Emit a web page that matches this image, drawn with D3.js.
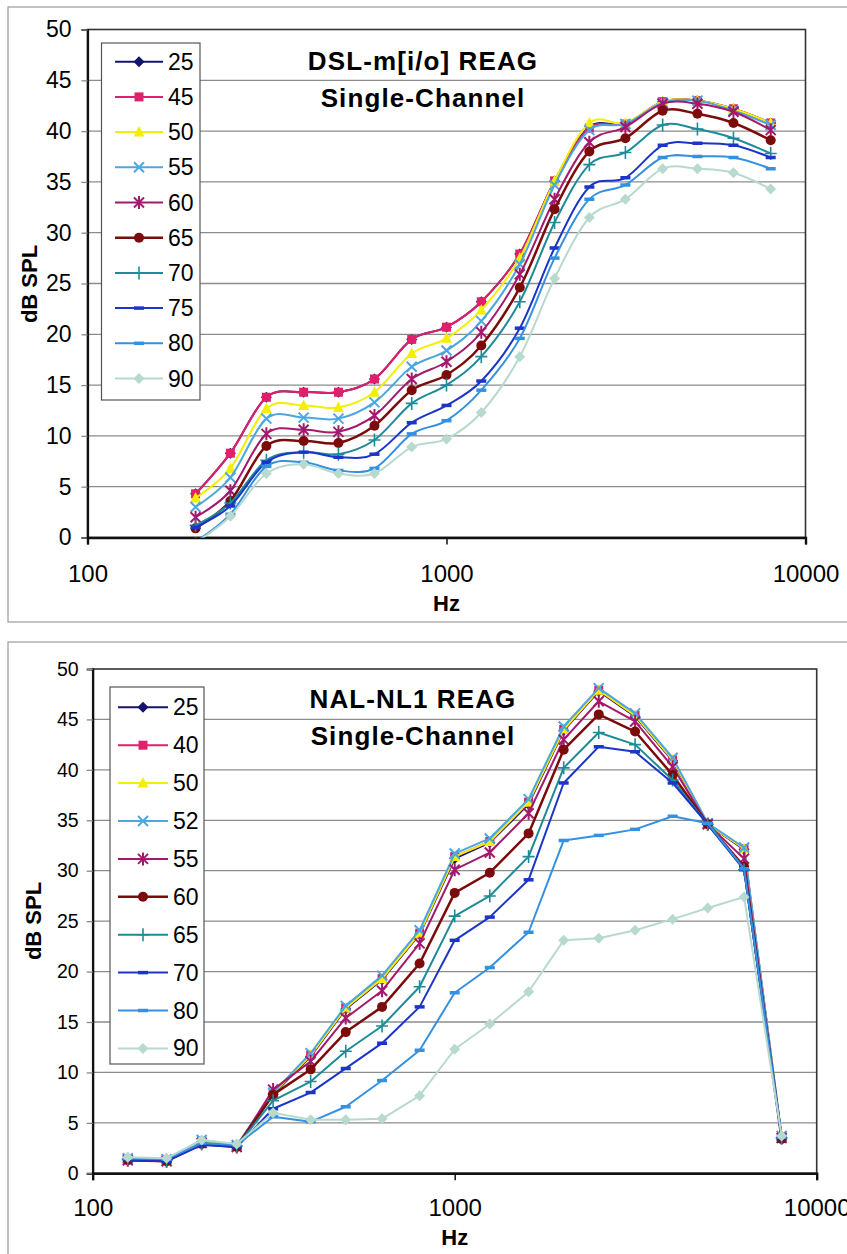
<!DOCTYPE html>
<html>
<head>
<meta charset="utf-8">
<script src="https://cdn.jsdelivr.net/npm/d3@7"></script>
<style>
  body { margin: 0; background: #fff; }
  svg { display: block; }
  text { font-family: Arial, "Liberation Sans", sans-serif; fill: #000; }
</style>
</head>
<body>
<svg id="chart" width="847" height="1254"></svg>
<script>
// ---- DSL-m[i/o] chart data (dB SPL per frequency) ----
const dslFreqs = [200, 250, 315, 400, 500, 630, 800, 1000, 1250, 1600, 2000, 2500, 3150, 4000, 5000, 6300, 8000];
const dslLabels = ["25", "45", "50", "55", "60", "65", "70", "75", "80", "90"];
const dsl25 = [4.3, 8.3, 13.8, 14.3, 14.3, 15.6, 19.5, 20.7, 23.2, 27.9, 35.1, 40.4, 40.7, 42.9, 43.0, 42.2, 40.8];
const dsl45 = [4.3, 8.3, 13.8, 14.3, 14.3, 15.6, 19.5, 20.7, 23.2, 27.9, 35.1, 40.3, 40.7, 42.9, 43.0, 42.2, 40.8];
const dsl50 = [3.9, 6.8, 12.7, 13.0, 12.8, 14.3, 18.1, 19.6, 22.4, 27.5, 35.1, 40.8, 40.8, 42.9, 43.0, 42.2, 40.8];
const dsl55 = [3.0, 5.9, 11.7, 11.8, 11.7, 13.3, 16.8, 18.4, 21.3, 26.9, 34.7, 40.1, 40.7, 42.8, 43.0, 42.0, 40.6];
const dsl60 = [2.0, 4.6, 10.2, 10.6, 10.4, 12.0, 15.6, 17.3, 20.2, 25.9, 33.3, 38.9, 40.4, 42.7, 42.7, 41.9, 40.1];
const dsl65 = [0.9, 3.6, 9.0, 9.5, 9.3, 11.0, 14.5, 16.0, 18.9, 24.6, 32.3, 38.0, 39.3, 42.0, 41.7, 40.8, 39.1];
const dsl70 = [1.2, 3.4, 7.6, 8.4, 8.2, 9.6, 13.2, 15.0, 17.8, 23.2, 31.0, 36.7, 37.9, 40.6, 40.2, 39.3, 37.8];
const dsl75 = [1.0, 3.1, 7.4, 8.4, 7.9, 8.2, 11.3, 13.0, 15.4, 20.6, 28.5, 34.5, 35.4, 38.6, 38.8, 38.6, 37.4];
const dsl80 = [-0.4, 2.3, 7.0, 7.4, 6.6, 6.8, 10.2, 11.5, 14.5, 19.6, 27.5, 33.3, 34.7, 37.4, 37.5, 37.4, 36.3];
const dsl90 = [-0.5, 2.1, 6.3, 7.2, 6.3, 6.3, 8.9, 9.7, 12.3, 17.8, 25.5, 31.5, 33.3, 36.3, 36.3, 35.9, 34.3];

// ---- NAL-NL1 chart data ----
const nalFreqs = [125, 160, 200, 250, 315, 400, 500, 630, 800, 1000, 1250, 1600, 2000, 2500, 3150, 4000, 5000, 6300, 8000];
const nalLabels = ["25", "40", "50", "52", "55", "60", "65", "70", "80", "90"];
const nal25 = [1.4, 1.2, 3.1, 2.6, 7.8, 11.6, 16.3, 19.2, 23.7, 31.2, 32.8, 36.6, 43.9, 47.8, 45.3, 40.9, 34.6, 32.1, 3.5];
const nal40 = [1.4, 1.3, 3.2, 2.7, 7.9, 11.7, 16.4, 19.3, 23.8, 31.4, 32.9, 36.8, 44.0, 47.9, 45.4, 41.0, 34.6, 32.2, 3.6];
const nal50 = [1.4, 1.3, 3.2, 2.7, 7.9, 11.7, 16.4, 19.3, 23.8, 31.4, 32.9, 36.8, 44.0, 47.9, 45.4, 41.0, 34.6, 32.2, 3.6];
const nal52 = [1.5, 1.4, 3.3, 2.8, 8.0, 11.9, 16.6, 19.6, 24.1, 31.7, 33.2, 37.1, 44.3, 48.1, 45.6, 41.2, 34.7, 32.3, 3.7];
const nal55 = [1.3, 1.2, 3.0, 2.6, 8.3, 11.1, 15.4, 18.1, 22.8, 30.1, 31.8, 35.7, 43.0, 46.8, 44.8, 40.3, 34.6, 31.2, 3.5];
const nal60 = [1.3, 1.2, 2.9, 2.6, 7.8, 10.3, 14.0, 16.5, 20.8, 27.8, 29.8, 33.7, 42.0, 45.5, 43.8, 39.5, 34.6, 30.4, 3.4];
const nal65 = [1.4, 1.3, 2.9, 2.7, 7.2, 9.1, 12.1, 14.6, 18.5, 25.5, 27.5, 31.4, 40.2, 43.7, 42.5, 39.0, 34.6, 30.1, 3.5];
const nal70 = [1.3, 1.2, 2.8, 2.6, 6.4, 8.0, 10.4, 12.9, 16.5, 23.1, 25.4, 29.1, 38.7, 42.3, 41.8, 38.7, 34.6, 30.1, 3.5];
const nal80 = [1.5, 1.4, 3.0, 2.8, 5.6, 5.1, 6.6, 9.2, 12.2, 17.9, 20.4, 23.9, 33.0, 33.5, 34.1, 35.4, 34.7, 30.2, 3.6];
const nal90 = [1.6, 1.5, 3.3, 2.9, 6.0, 5.3, 5.3, 5.4, 7.7, 12.3, 14.8, 18.0, 23.1, 23.3, 24.1, 25.2, 26.3, 27.4, 3.7];

const yTicks = [0, 5, 10, 15, 20, 25, 30, 35, 40, 45, 50];
const xTicks = [100, 1000, 10000];

// series look, same order in both charts
const styles = [
  { color: "#14146e", marker: "diamond", w: 2 },
  { color: "#e0206a", marker: "square", w: 2 },
  { color: "#f4ee00", marker: "triangle", w: 2 },
  { color: "#4ca7e0", marker: "x", w: 2 },
  { color: "#a3196d", marker: "star", w: 2 },
  { color: "#7c0b0b", marker: "circle", w: 2.5 },
  { color: "#1d8b98", marker: "plus", w: 2 },
  { color: "#1b35c9", marker: "dash", w: 2 },
  { color: "#3490e2", marker: "dash", w: 2 },
  { color: "#b8dacd", marker: "diamond", w: 2 },
];

const svg = d3.select("#chart");

function drawMarker(g, type, color) {
  if (type == "circle") {
    g.append("circle").attr("r", 5).attr("fill", color);
  } else if (type == "square") {
    g.append("rect").attr("x", -4.5).attr("y", -4.5).attr("width", 9).attr("height", 9).attr("fill", color);
  } else if (type == "diamond") {
    g.append("path").attr("d", "M0,-5.5L5.5,0L0,5.5L-5.5,0Z").attr("fill", color);
  } else if (type == "triangle") {
    g.append("path").attr("d", "M0,-6L5.5,4.5L-5.5,4.5Z").attr("fill", color);
  } else if (type == "x") {
    g.append("path").attr("d", "M-5,-5L5,5M-5,5L5,-5").attr("stroke", color).attr("stroke-width", 2).attr("fill", "none");
  } else if (type == "star") {
    g.append("path").attr("d", "M-5,-5L5,5M-5,5L5,-5M0,-6.5L0,6.5").attr("stroke", color).attr("stroke-width", 2).attr("fill", "none");
  } else if (type == "plus") {
    g.append("path").attr("d", "M-6,0L6,0M0,-6.5L0,6.5").attr("stroke", color).attr("stroke-width", 1.6).attr("fill", "none");
  } else if (type == "dash") {
    g.append("path").attr("d", "M-5,0L5,0").attr("stroke", color).attr("stroke-width", 3.5).attr("fill", "none");
  }
}

function drawChart(cfg) {
  const root = svg.append("g");
  const x = d3.scaleLog().domain([100, 10000]).range([cfg.left, cfg.right]);
  const y = d3.scaleLinear().domain([0, 50]).range([cfg.bottom, cfg.top]);

  // outer chart frame
  root.append("rect")
    .attr("x", cfg.frame[0]).attr("y", cfg.frame[1])
    .attr("width", cfg.frame[2] - cfg.frame[0]).attr("height", cfg.frame[3] - cfg.frame[1])
    .attr("fill", "none").attr("stroke", "#9a9a9a").attr("stroke-width", 1.2);

  // grid
  root.append("g").selectAll("line")
    .data(yTicks.filter(d => d > 0 && d < 50))
    .join("line")
    .attr("x1", cfg.left).attr("x2", cfg.right)
    .attr("y1", d => y(d)).attr("y2", d => y(d))
    .attr("stroke", "#8c8c8c").attr("stroke-width", 1.3);

  // plot border
  root.append("rect")
    .attr("x", cfg.left).attr("y", cfg.top)
    .attr("width", cfg.right - cfg.left).attr("height", cfg.bottom - cfg.top)
    .attr("fill", "none").attr("stroke", "#333").attr("stroke-width", 1.6);

  // axes
  const yAxis = root.append("g")
    .attr("transform", `translate(${cfg.left},0)`)
    .call(d3.axisLeft(y).tickValues(yTicks).tickSize(6).tickPadding(cfg.yPad));
  yAxis.select(".domain").attr("stroke", "#111").attr("stroke-width", 2.2);
  yAxis.selectAll(".tick line").attr("stroke", "#888").attr("stroke-width", 1.3);
  yAxis.selectAll("text").style("font-size", cfg.yFont + "px").attr("font-family", null);

  const xAxis = root.append("g")
    .attr("transform", `translate(0,${cfg.bottom})`)
    .call(d3.axisBottom(x).tickValues(xTicks).tickFormat(d3.format("d")).tickSize(7).tickPadding(cfg.xPad));
  xAxis.select(".domain").attr("stroke", "#111").attr("stroke-width", 2.4);
  xAxis.selectAll(".tick line").attr("stroke", "#111").attr("stroke-width", 1.5);
  xAxis.selectAll("text").style("font-size", "24px").attr("font-family", null);

  // axis titles
  root.append("text")
    .attr("x", x(1000)).attr("y", cfg.hzY)
    .attr("text-anchor", "middle")
    .style("font-size", "22px").style("font-weight", "bold")
    .text("Hz");
  root.append("text")
    .attr("transform", `translate(${cfg.dbX},${cfg.dbY}) rotate(-90)`)
    .attr("text-anchor", "middle")
    .attr("dy", "0.35em")
    .style("font-size", "22px").style("font-weight", "bold")
    .text("dB SPL");

  // series
  const clipId = "clip" + cfg.id;
  root.append("clipPath").attr("id", clipId)
    .append("rect")
    .attr("x", cfg.left).attr("y", cfg.top)
    .attr("width", cfg.right - cfg.left).attr("height", cfg.bottom - cfg.top);
  const plot = root.append("g").attr("clip-path", `url(#${clipId})`);

  const line = d3.line()
    .x(d => x(d[0]))
    .y(d => y(d[1]))
    .curve(cfg.smooth ? d3.curveCardinal.tension(0) : d3.curveLinear);

  cfg.series.forEach((vals, i) => {
    const st = styles[i];
    const pts = cfg.freqs.map((f, j) => [f, vals[j]]);
    const sg = plot.append("g");
    sg.append("path")
      .attr("d", line(pts))
      .attr("fill", "none")
      .attr("stroke", st.color)
      .attr("stroke-width", st.w)
      .attr("stroke-linejoin", "round");
    pts.forEach(p => {
      const mg = sg.append("g").attr("transform", `translate(${x(p[0])},${y(p[1])})`);
      drawMarker(mg, st.marker, st.color);
    });
  });

  // legend
  const lg = root.append("g");
  lg.append("rect")
    .attr("x", cfg.legend.x0).attr("y", cfg.legend.y0)
    .attr("width", cfg.legend.x1 - cfg.legend.x0).attr("height", cfg.legend.y1 - cfg.legend.y0)
    .attr("fill", "#fff").attr("stroke", "#555").attr("stroke-width", 1.2);
  cfg.labels.forEach((lab, i) => {
    const st = styles[i];
    const ry = cfg.legend.first + i * cfg.legend.step;
    lg.append("line")
      .attr("x1", cfg.legend.lx0).attr("x2", cfg.legend.lx1)
      .attr("y1", ry).attr("y2", ry)
      .attr("stroke", st.color).attr("stroke-width", st.w);
    const mg = lg.append("g").attr("transform", `translate(${(cfg.legend.lx0 + cfg.legend.lx1) / 2},${ry})`);
    drawMarker(mg, st.marker, st.color);
    lg.append("text")
      .attr("x", cfg.legend.tx).attr("y", ry + 8)
      .style("font-size", "23px")
      .text(lab);
  });

  // title
  const tt = root.append("text")
    .attr("text-anchor", "middle")
    .style("font-size", "26px").style("font-weight", "bold")
    .style("letter-spacing", "1.1px");
  tt.append("tspan").attr("x", cfg.titleX).attr("y", cfg.titleY[0]).text(cfg.title[0]);
  tt.append("tspan").attr("x", cfg.titleX).attr("y", cfg.titleY[1]).text(cfg.title[1]);
}

drawChart({
  id: "dsl",
  frame: [8, 7, 870, 622],
  left: 87.5, right: 805.5, top: 29.5, bottom: 537.5,
  yPad: 10, yFont: 23, xPad: 20,
  hzY: 611, dbX: 29, dbY: 284,
  smooth: true,
  freqs: dslFreqs,
  labels: dslLabels,
  series: [dsl25, dsl45, dsl50, dsl55, dsl60, dsl65, dsl70, dsl75, dsl80, dsl90],
  legend: { x0: 101.5, x1: 200, y0: 43, y1: 400, first: 61.7, step: 35.2, lx0: 115, lx1: 163, tx: 168 },
  title: ["DSL-m[i/o] REAG", "Single-Channel"],
  titleX: 423, titleY: [70, 107],
});

drawChart({
  id: "nal",
  frame: [8, 642, 870, 1280],
  left: 92.7, right: 816.7, top: 669, bottom: 1173.3,
  yPad: 8, yFont: 19.5, xPad: 19,
  hzY: 1245, dbX: 33, dbY: 921,
  smooth: false,
  freqs: nalFreqs,
  labels: nalLabels,
  series: [nal25, nal40, nal50, nal52, nal55, nal60, nal65, nal70, nal80, nal90],
  legend: { x0: 110, x1: 204, y0: 687, y1: 1064, first: 707.3, step: 37.9, lx0: 118, lx1: 168, tx: 173 },
  title: ["NAL-NL1 REAG", "Single-Channel"],
  titleX: 413, titleY: [708, 745],
});
</script>
</body>
</html>
